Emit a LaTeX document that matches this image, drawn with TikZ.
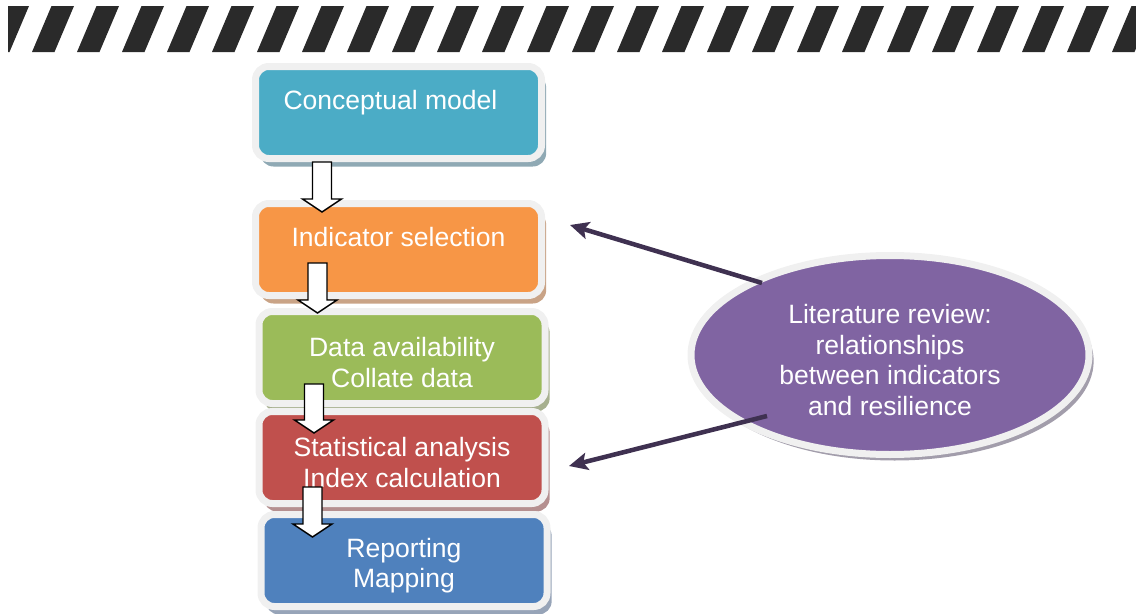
\documentclass[tikz,border=0pt]{standalone}
\usepackage{fontspec}
\setmainfont{Liberation Sans}
\usetikzlibrary{calc}
\usetikzlibrary{shapes.geometric}
\usetikzlibrary{shadows}
\usetikzlibrary{arrows.meta}

\definecolor{conceptfill}{HTML}{4BACC6}
\definecolor{conceptshadow}{HTML}{8FA9B4}
\definecolor{selectfill}{HTML}{F79646}
\definecolor{selectshadow}{HTML}{C9A386}
\definecolor{datafill}{HTML}{9BBB59}
\definecolor{datashadow}{HTML}{A7B08F}
\definecolor{statsfill}{HTML}{C0504D}
\definecolor{statsshadow}{HTML}{B59090}
\definecolor{reportfill}{HTML}{4F81BD}
\definecolor{reportshadow}{HTML}{97A4B8}
\definecolor{reviewfill}{HTML}{8064A2}
\definecolor{reviewshadow}{HTML}{A29DAB}
\definecolor{linkpurple}{HTML}{3F3151}
\definecolor{rimgray}{HTML}{F0F0F0}
\definecolor{stripegray}{HTML}{2A2A2A}

% taller first line, so the text sits a little low in its shape
\newcommand{\padtop}[1][22pt]{\rule{0pt}{#1}}

\tikzset{
  stage/.style={rectangle, rounded corners=10pt, draw=rimgray, line width=5.25pt,
    minimum width=214.5pt, minimum height=69pt, inner sep=0pt, outer sep=0pt,
    align=center, text=white, font=\fontsize{19.9}{22.9}\selectfont,
    drop shadow={shadow xshift=3.5pt, shadow yshift=-6pt, opacity=1, fill=#1}},
  review/.style={ellipse, draw=rimgray, line width=5.25pt, fill=reviewfill,
    minimum width=298.5pt, minimum height=149.25pt, inner sep=0pt, outer sep=0pt,
    align=center, text=white, font=\fontsize{19.9}{22.9}\selectfont,
    drop shadow={shadow xshift=3.5pt, shadow yshift=-4.5pt, opacity=1, fill=reviewshadow}},
  blockarrow/.style={draw=black, fill=white, line width=1.1pt, line join=miter},
  link/.style={draw=linkpurple, line width=3.4pt,
    -{Stealth[length=14pt, width=13pt, inset=3pt]}}
}

% hollow down arrow: top of the shaft, then the level of the tip
\newcommand{\blockarrow}[2]{%
  \coordinate (shafttop) at #1;
  \coordinate (tiplevel) at #2;
  \coordinate (arrowtip) at (shafttop |- tiplevel);
  \draw[blockarrow] ($(shafttop)+(-9.5,0)$) -- ($(arrowtip)+(-9.5,-13)$)
    -- ($(arrowtip)+(-19.5,-13)$) -- (arrowtip) -- ($(arrowtip)+(19.5,-13)$)
    -- ($(arrowtip)+(9.5,-13)$) -- ($(shafttop)+(9.5,0)$) -- cycle;
}

\begin{document}
\begin{tikzpicture}[x=0.75pt, y=-0.75pt]
  \useasboundingbox (0,0) rectangle (1136,614);

  % striped band along the top
  \begin{scope}
    \clip (8,6) rectangle (1136,52);
    \foreach \x in {-13,32,...,1112}
      \fill[stripegray] (\x,52) -- (\x+22.5,52) -- (\x+42,6) -- (\x+19.5,6) -- cycle;
  \end{scope}

  % the five stages
  \node[stage=conceptshadow, fill=conceptfill] (concept) at (398.5,112.5) {\padtop[25pt]Conceptual model\kern12pt\\\strut};
  \node[stage=selectshadow, fill=selectfill] (select) at (398.5,249.5) {\padtop[25pt]Indicator selection\\\strut};
  \node[stage=datashadow, fill=datafill] (data) at (402,357.5) {\padtop Data availability\\Collate data};
  \node[stage=statsshadow, fill=statsfill] (stats) at (402,457.5) {\padtop Statistical analysis\\Index calculation};
  \node[stage=reportshadow, fill=reportfill] (report) at (404,560.5) {\padtop Reporting\\Mapping};

  \blockarrow{($(concept.south)+(-76.5,3.5)$)}{($(select.north)+(0,8.5)$)}
  \blockarrow{($(select.south)+(-81,-32.5)$)}{($(data.north)+(0,1.5)$)}
  \blockarrow{($(data.south)+(-88,-19.5)$)}{($(stats.north)+(0,21.5)$)}
  \blockarrow{($(stats.south)+(-89.5,-16.5)$)}{($(report.north)+(0,22.5)$)}

  % literature feeding two of the stages
  \node[review] (lit) at (890,355) {\padtop Literature review:\\relationships\\between indicators\\and resilience};
  \draw[link] ($(lit.center)+(-128,-72)$) -- ($(select.east)+(28.5,-24.5)$);
  \draw[link] ($(lit.center)+(-123,61)$) -- ($(stats.east)+(24,8.5)$);
\end{tikzpicture}
\end{document}
